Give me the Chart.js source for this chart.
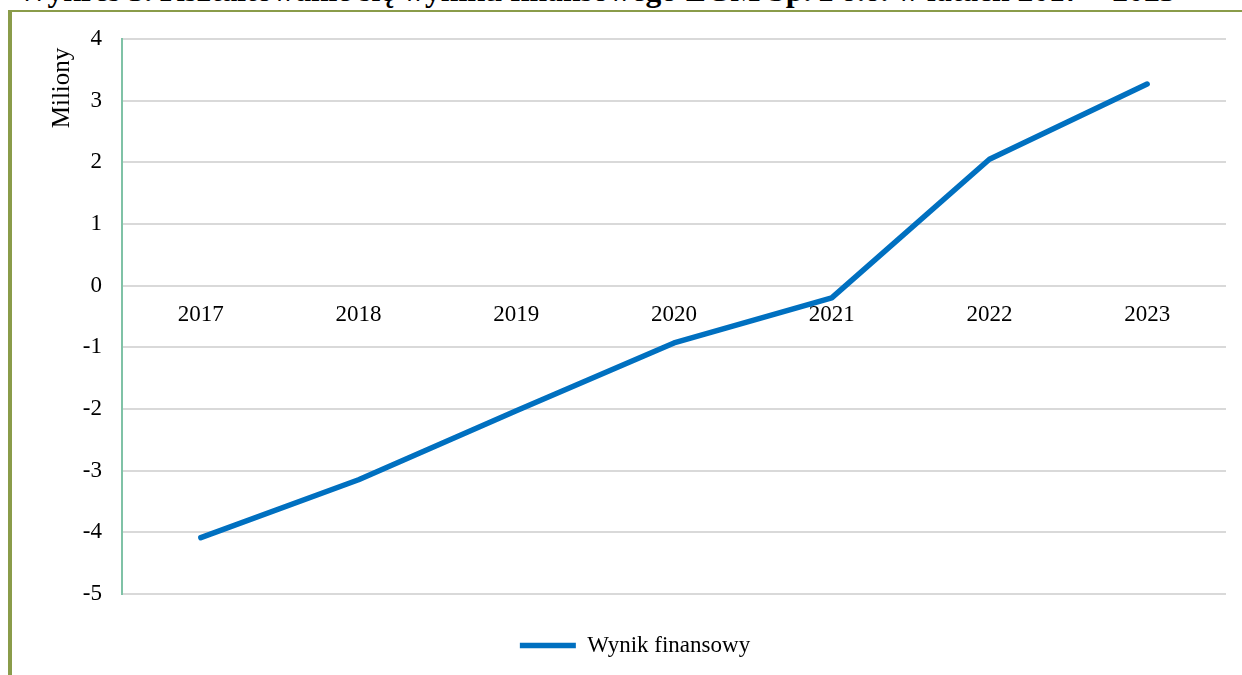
<!DOCTYPE html>
<html lang="pl">
<head>
<meta charset="utf-8">
<title>Wynik finansowy 2017-2023</title>
<script src="https://cdn.jsdelivr.net/npm/chart.js@4.4.1/dist/chart.umd.min.js"></script>
<style>
  html, body { margin: 0; padding: 0; background: #fff; overflow: hidden; }
  #wrap { position: relative; width: 1242px; height: 675px; overflow: hidden; }
  #caption {
    position: absolute; left: 17px; top: -27px; white-space: nowrap; line-height: 32px;
    font: bold 31.6px "Liberation Serif", "Times New Roman", serif; color: #000;
  }
  #frame {
    position: absolute; left: 8px; top: 10px; width: 1250px; height: 680px;
    border-left: 4px solid #8a9c4a; border-top: 2px solid #8a9c4a; box-sizing: border-box;
  }
  #myChart { position: absolute; left: 0; top: 0; }
</style>
</head>
<body>
<div id="wrap">
  <div id="caption">Wykres 3. Kształtowanie się wyniku finansowego ZGM Sp. z o.o. w latach 2017 – 2023</div>
  <div id="frame"></div>
  <canvas id="myChart" width="1242" height="675"></canvas>
</div>
<script>
// lata i wynik finansowy (mln zł)
var years = ["2017", "2018", "2019", "2020", "2021", "2022", "2023"];
var wynik = [-4.09, -3.15, -2.03, -0.93, -0.2, 2.05, 3.27];
var seriesName = "Wynik finansowy";
var unitLabel = "Miliony";

var serif = "'Liberation Serif', 'Times New Roman', serif";

// podpis jednostki nad osią Y
var unitPlugin = {
  id: "unitLabel",
  afterLayout: function (chart) {
    // legenda lekko w prawo
    chart.legend.left += 22;
    chart.legend.right += 22;
  },
  afterDraw: function (chart) {
    var ctx = chart.ctx;
    ctx.save();
    ctx.translate(62, 88);
    ctx.rotate(-Math.PI / 2);
    ctx.font = "25px " + serif;
    ctx.fillStyle = "#000";
    ctx.textAlign = "center";
    ctx.textBaseline = "middle";
    ctx.fillText(unitLabel, 0, 0);
    ctx.restore();
  }
};

function createChart() {
  var ctx = document.getElementById("myChart").getContext("2d");
  new Chart(ctx, {
    type: "line",
    data: {
      labels: years,
      datasets: [
        {
          label: seriesName,
          data: wynik,
          borderColor: "#0070c0",
          backgroundColor: "#0070c0",
          borderWidth: 5.5,
          borderCapStyle: "round",
          borderJoinStyle: "round",
          pointRadius: 0,
          tension: 0,
        },
      ],
    },
    options: {
      responsive: false,
      animation: false,
      layout: { padding: { left: 0, right: 16, top: 39, bottom: 8 } },
      plugins: {
        title: { display: false },
        tooltip: { enabled: false },
        legend: {
          position: "bottom",
          // pusty tytuł legendy robi odstęp nad wpisem
          title: { display: true, text: "", font: { size: 1 }, padding: { top: 29, bottom: 0 } },
          labels: {
            usePointStyle: true,
            pointStyle: "line",
            pointStyleWidth: 56,
            boxHeight: 20,
            padding: 10,
            color: "#000",
            font: { family: serif, size: 23 },
          },
        },
      },
      scales: {
        x: {
          position: { y: 0 },
          offset: true,
          grid: { display: false, drawTicks: false },
          border: { display: false },
          ticks: {
            color: "#000",
            padding: 16,
            maxRotation: 0,
            font: { family: serif, size: 23 },
          },
        },
        y: {
          min: -5,
          max: 4,
          grid: { color: "#d9d9d9", lineWidth: 2, drawTicks: false },
          border: { display: true, color: "#7fc2a6", width: 2 },
          ticks: {
            stepSize: 1,
            padding: 20,
            color: "#000",
            font: { family: serif, size: 23 },
            callback: function (v) { return String(v); },
          },
          afterFit: function (s) { s.width = 122; },
        },
      },
    },
    plugins: [unitPlugin],
  });
}

createChart();
</script>
</body>
</html>
